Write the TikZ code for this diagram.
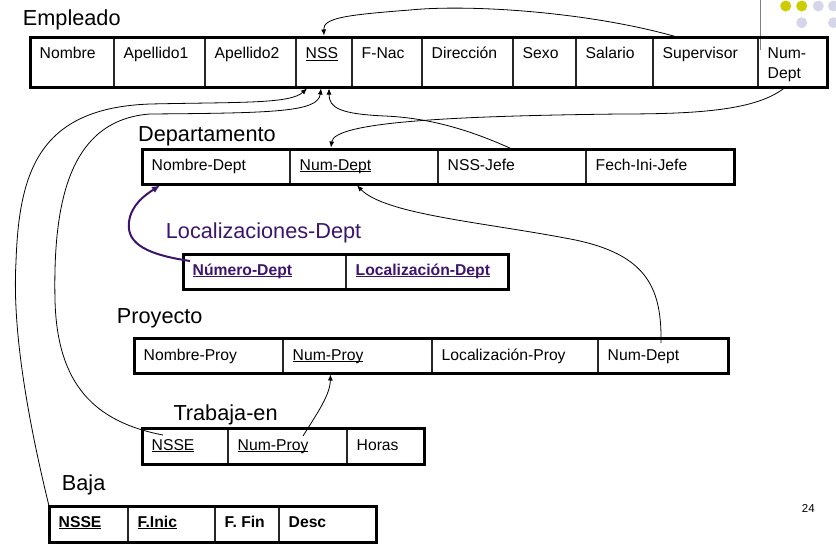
\documentclass[tikz,border=0pt]{standalone}
\usepackage{fontspec}
\setmainfont{Liberation Sans}
\usetikzlibrary{arrows.meta,calc}
\definecolor{locpurple}{RGB}{60,20,110}
\definecolor{dotyellow}{RGB}{204,204,0}
\definecolor{dotlav}{RGB}{214,214,235}
\newcommand\cellfont{\fontsize{15.7}{19.7}\selectfont}
\newcommand\titlefont{\fontsize{21.7}{25}\selectfont}
\newcommand\myul[1]{\setbox0\hbox{#1}\rlap{\rule[-2pt]{\wd0}{1pt}}\box0}
\newcommand\tcell[7]{%
  \node[cellbox, minimum width={(#3)-(#2)}, minimum height={(#5)-(#4)}, anchor=north west] (#1) at (#2,#4) {};
  \node[celltext, anchor=base west] (#1t) at ([xshift=9.5pt,yshift=-#7pt]#1.north west) {#6};
}
\tikzset{
  cellbox/.style={draw=black!85, line width=1.2pt, inner sep=0pt, outer sep=0pt, rectangle},
  celltext/.style={inner sep=0pt, font=\cellfont},
  tabtitle/.style={inner sep=0pt, anchor=base west, font=\titlefont},
  outerbox/.style={draw=black, line width=3pt},
  conn/.style={draw=black, line width=0.8pt, -{Latex[length=6pt,width=5pt]}},
  purplearrow/.style={draw=locpurple, line width=2pt, -{Latex[length=8pt,width=7pt]}},
}
\begin{document}
\begin{tikzpicture}[x=1pt,y=-1pt]
\useasboundingbox (0,0) rectangle (836,544);
% decoration
\fill[dotyellow] (785.7,6) circle (5.5);
\fill[dotyellow] (801.7,6) circle (5.5);
\fill[dotlav] (818.3,6) circle (5.5);
\fill[dotlav] (833.5,6) circle (5.5);
\fill[dotlav] (801.7,22.7) circle (5.5);
\fill[dotlav] (833.5,22.7) circle (5.5);
\draw[gray, line width=1pt] (760,0) -- (760,50);

% Empleado
\node[tabtitle] (tEmp) at (22.7,25) {Empleado};
\tcell{enom}{30}{114}{37}{87}{Nombre}{21.5}
\tcell{eap1}{114}{205}{37}{87}{Apellido1}{21.5}
\tcell{eap2}{205}{296}{37}{87}{Apellido2}{21.5}
\tcell{enss}{296}{352}{37}{87}{\myul{NSS}}{21.5}
\tcell{efn}{352}{422}{37}{87}{F-Nac}{21.5}
\tcell{edir}{422}{513}{37}{87}{Dirección}{21.5}
\tcell{esex}{513}{576}{37}{87}{Sexo}{21.5}
\tcell{esal}{576}{653}{37}{87}{Salario}{21.5}
\tcell{esup}{653}{758}{37}{87}{Supervisor}{21.5}
\tcell{ends}{758}{827}{37}{87}{\begin{tabular}[t]{@{}l@{}}Num-\\Dept\end{tabular}}{21.5}
\draw[outerbox] (enom.north west) rectangle (ends.south east);

% Departamento
\node[tabtitle] (tDep) at (138,141) {Departamento};
\tcell{dnom}{142}{290}{149}{184}{Nombre-Dept}{21}
\tcell{dnd}{290}{438}{149}{184}{\myul{Num-Dept}}{21}
\tcell{jefe}{438}{586}{149}{184}{NSS-Jefe}{21}
\tcell{dfech}{586}{734}{149}{184}{Fech-Ini-Jefe}{21}
\draw[outerbox] (dnom.north west) rectangle (dfech.south east);

% Localizaciones-Dept
\node[tabtitle, text=locpurple] (tLoc) at (165.7,238) {Localizaciones-Dept};
\tcell{lnum}{183}{346}{254}{289}{\color{locpurple}\bfseries\myul{Número-Dept}}{21}
\tcell{lloc}{346}{508}{254}{289}{\color{locpurple}\bfseries\myul{Localización-Dept}}{21}
\draw[outerbox] (lnum.north west) rectangle (lloc.south east);

% Proyecto
\node[tabtitle] (tPro) at (116.7,323) {Proyecto};
\tcell{pnom}{134}{283}{338}{373}{Nombre-Proy}{22}
\tcell{pnp}{283}{432}{338}{373}{\myul{Num-Proy}}{22}
\tcell{ploc}{432}{598}{338}{373}{Localización-Proy}{22}
\tcell{pnd}{598}{728}{338}{373}{Num-Dept}{22}
\draw[outerbox] (pnom.north west) rectangle (pnd.south east);

% Trabaja-en
\node[tabtitle] (tTra) at (173.3,420) {Trabaja-en};
\tcell{tnsse}{142}{228}{428}{464}{\myul{NSSE}}{22}
\tcell{tnp}{228}{347}{428}{464}{\myul{Num-Proy}}{22}
\tcell{thor}{347}{424}{428}{464}{Horas}{22}
\draw[outerbox] (tnsse.north west) rectangle (thor.south east);

% Baja
\node[tabtitle] (tBaj) at (61.7,490) {Baja};
\tcell{bnsse}{49}{128}{506}{542}{\bfseries\myul{NSSE}}{21}
\tcell{bfi}{128}{215}{506}{542}{\bfseries\myul{F.Inic}}{21}
\tcell{bff}{215}{279}{506}{542}{\bfseries F. Fin}{21}
\tcell{bdesc}{279}{376}{506}{542}{\bfseries Desc}{21}
\draw[outerbox] (bnsse.north west) rectangle (bdesc.south east);

% page number
\node[inner sep=0pt, anchor=base west, font=\fontsize{11.5}{13}\selectfont] (pg) at (801.7,512) {24};

% connectors
\draw[conn] ([xshift=24pt]esup.north west) .. controls (590,12) and (470,4) .. (410,10)
  .. controls (345,15) and (323,18) .. ([yshift=1.5pt]enss.north);
\draw[conn] ([xshift=-7pt]ends.south) .. controls (758,110) and (700,114) .. (620,114)
  .. controls (450,116) and (334,122) .. ([xshift=-33pt,yshift=1.5pt]dnd.north);
\draw[conn] (jefe.north) .. controls (470,130) and (430,118) .. (385,116)
  .. controls (340,114) and (329,108) .. ([xshift=5pt,yshift=-1.5pt]enss.south);
\draw[conn] (bnsse.north west) .. controls (28,420) and (12,330) .. (16,262)
  .. controls (19,170) and (40,108) .. (150,104)
  .. controls (240,102) and (290,104) .. ([xshift=-17pt,yshift=-1.5pt]enss.south);
\draw[conn] ([xshift=21pt,yshift=-7pt]tnsse.north west) .. controls (95,422) and (57,385) .. (55,300)
  .. controls (53,205) and (68,120) .. (150,114)
  .. controls (275,113) and (318,112) .. ([xshift=-3pt,yshift=-1.5pt]enss.south);
\draw[conn] ([xshift=63pt,yshift=-5pt]pnd.north west) .. controls (662,285) and (645,252) .. (565,238)
  .. controls (480,222) and (385,214) .. ([xshift=-7pt,yshift=-1.5pt]dnd.south);
\draw[conn] ([xshift=75pt,yshift=-8pt]tnp.north west) .. controls (318,412) and (330,395)
  .. ([xshift=-27pt,yshift=-1.5pt]pnp.south);
\draw[purplearrow] ([xshift=7pt,yshift=-7pt]lnum.north west) .. controls (150,255) and (126,245) .. (129,222)
  .. controls (131,205) and (145,195) .. ([xshift=18pt,yshift=-1.5pt]dnom.south west);
\end{tikzpicture}
\end{document}
